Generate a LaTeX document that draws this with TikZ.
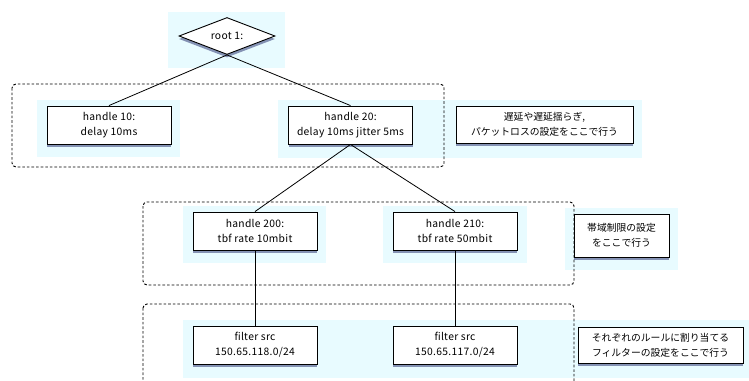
\documentclass[tikz,border=0pt]{standalone}
\usepackage{fontspec}
\setmainfont{Noto Sans CJK JP}
\usetikzlibrary{shapes.geometric,shadows}
\definecolor{bgcyan}{RGB}{232,251,255}
\definecolor{shadowc}{RGB}{50,60,120}
\tikzset{
  qbox/.style={draw=black, line width=0.9pt, fill=white, rectangle, inner sep=0pt,
    minimum width=124pt, minimum height=38pt, align=center,
    font=\fontsize{10.3}{15}\selectfont\addfontfeature{LetterSpace=3},
    drop shadow={shadow xshift=0pt, shadow yshift=-3pt, fill=shadowc, opacity=0.55}},
  notebox/.style={qbox, font=\fontsize{9.8}{15}\selectfont},
  bgfill/.style={fill=bgcyan, draw=none},
  band/.style={draw=black, line width=0.9pt, dash pattern=on 2.6pt off 2pt, rounded corners=4pt},
  link/.style={draw=black, line width=0.8pt}
}
\begin{document}
\begin{tikzpicture}[x=1pt,y=-1pt]
\useasboundingbox (0,0) rectangle (749,380);
\fill[white] (0,0) rectangle (749,380);
% backgrounds
\fill[bgfill] (168,12) rectangle (285,68);
\fill[bgfill] (37,100) rectangle (180,157);
\fill[bgfill] (278,100) rectangle (642,158);
\fill[bgfill] (183,206) rectangle (326,263);
\fill[bgfill] (383,206) rectangle (527,263);
\fill[bgfill] (565,208) rectangle (678,270);
\fill[bgfill] (183,320) rectangle (749,378);
% dashed bands
\draw[band] (12,84) rectangle (444,167);
\draw[band] (143,202) rectangle (574,285);
\begin{scope}
\clip (0,0) rectangle (749,380);
\draw[band] (143,304) rectangle (574,400);
\end{scope}
% nodes
\node[shape=diamond, draw=black, line width=0.9pt, fill=white, inner sep=0pt,
  minimum width=96pt, minimum height=37pt, shape aspect=2.6,
  font=\fontsize{10.3}{15}\selectfont\addfontfeature{LetterSpace=3},
  drop shadow={shadow xshift=0pt, shadow yshift=-3pt, fill=shadowc, opacity=0.55}]
  (root) at (227,36) {root 1:};
\node[qbox] (h10) at (109,125) {handle 10:\\delay 10ms};
\node[qbox] (h20) at (350.5,125) {handle 20:\\delay 10ms jitter 5ms};
\node[notebox, minimum width=177pt, minimum height=37pt] (n1) at (544.5,124.5) {遅延や遅延揺らぎ,\\パケットロスの設定をここで行う};
\node[qbox] (h200) at (255,231) {handle 200:\\tbf rate 10mbit};
\node[qbox] (h210) at (455,231) {handle 210:\\tbf rate 50mbit};
\node[notebox, minimum width=95pt, minimum height=43pt] (n2) at (621.5,235.5) {帯域制限の設定\\をここで行う};
\node[qbox] (f1) at (255,345) {filter src\\150.65.118.0/24};
\node[qbox] (f2) at (455,345) {filter src\\150.65.117.0/24};
\node[notebox, minimum width=165pt, minimum height=36pt] (n3) at (660.5,345) {それぞれのルールに割り当てる\\フィルターの設定をここで行う};
% links
\draw[link] (root.south) -- (h10.north);
\draw[link] (root.south) -- (h20.north);
\draw[link] (h20.south) -- (h200.north);
\draw[link] (h20.south) -- (h210.north);
\draw[link] (h200.south) -- (f1.north);
\draw[link] (h210.south) -- (f2.north);
\end{tikzpicture}
\end{document}
